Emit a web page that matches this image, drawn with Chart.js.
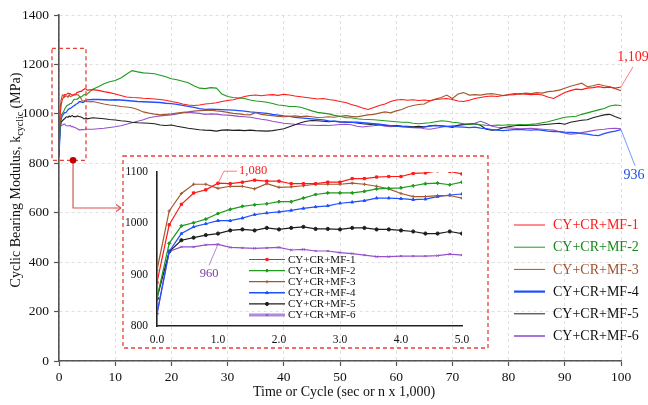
<!DOCTYPE html>
<html><head><meta charset="utf-8">
<script src="https://cdn.jsdelivr.net/npm/chart.js@4.4.1/dist/chart.umd.min.js"></script>
<style>
html,body{margin:0;padding:0;background:#fff;}
#wrap{position:relative;width:648px;height:405px;overflow:hidden;}
#main{position:absolute;left:0;top:0;}
#inset{position:absolute;left:123px;top:156px;}
</style></head><body>
<div id="wrap"><canvas id="main" width="648" height="405"></canvas><canvas id="inset" width="364" height="191"></canvas></div>
<script>
// ---------- DATA ----------
const seriesNames = ['CY+CR+MF-1','CY+CR+MF-2','CY+CR+MF-3','CY+CR+MF-4','CY+CR+MF-5','CY+CR+MF-6'];

// first 5 (x 1,000) cycles, every 0.2
const earlyX = [0,0.2,0.4,0.6,0.8,1.0,1.2,1.4,1.6,1.8,2.0,2.2,2.4,2.6,2.8,3.0,3.2,3.4,3.6,3.8,4.0,4.2,4.4,4.6,4.8,5.0];
const earlyMF1 = [885,997,1037,1059,1065,1078,1077,1080,1084,1082,1082,1077,1077,1077,1080,1080,1087,1087,1090,1091,1091,1097,1098,1102,1101,1096];
const earlyMF2 = [855,961,995,1001,1008,1019,1027,1033,1036,1038,1042,1042,1049,1056,1059,1059,1059,1062,1067,1068,1069,1073,1077,1078,1075,1080];
const earlyMF3 = [909,1024,1058,1076,1076,1068,1072,1072,1067,1077,1070,1071,1073,1076,1076,1076,1078,1076,1072,1067,1058,1052,1052,1054,1054,1049];
const earlyMF4 = [825,945,980,993,999,1005,1005,1010,1017,1020,1022,1025,1029,1032,1034,1039,1041,1044,1049,1049,1048,1046,1047,1052,1055,1057];
const earlyMF5 = [854,945,967,972,977,980,986,988,986,991,988,991,993,989,989,988,991,991,988,988,986,984,980,980,984,980];
const earlyMF6 = [822,945,954,954,958,959,953,952,951,952,953,948,949,946,946,943,941,938,935,935,936,936,936,937,940,938];

// 6 .. 100 (x 1,000) cycles
const laterX = [6,7,8,9,10,11,12,13,14,15,16,17,18,19,20,21,22,23,24,25,26,27,28,29,30,31,32,33,34,35,36,37,38,39,40,41,42,43,44,45,46,47,48,49,50,51,52,53,54,55,56,57,58,59,60,61,62,63,64,65,66,67,68,69,70,71,72,73,74,75,76,77,78,79,80,81,82,83,84,85,86,87,88,89,90,91,92,93,94,95,96,97,98,99,100];
const laterMF1 = [1098,1095,1090,1086,1080,1074,1068,1066,1065,1063,
 1062,1060,1058,1055,1050,1046,1040,1036,1034,1036,
 1040,1042,1045,1050,1054,1057,1063,1070,1074,1076,
 1073,1076,1078,1075,1079,1076,1072,1069,1066,1063,
 1060,1062,1058,1055,1050,1046,1038,1032,1024,1018,
 1026,1034,1040,1050,1056,1058,1055,1057,1054,1056,
 1053,1058,1060,1062,1058,1052,1050,1055,1062,1066,
 1070,1072,1070,1074,1076,1078,1082,1080,1078,1080,
 1076,1068,1062,1074,1086,1094,1100,1098,1104,1106,
 1110,1106,1108,1104,1109];
const laterMF2 = [1100,1110,1122,1130,1135,1145,1160,1175,1170,1166,
 1164,1162,1156,1150,1142,1138,1132,1126,1114,1104,
 1102,1106,1104,1080,1070,1066,1064,1062,1056,1052,
 1050,1047,1042,1036,1034,1030,1030,1027,1020,1012,
 1006,1003,1000,994,990,984,984,980,978,977,
 976,974,972,970,968,966,966,962,960,962,
 964,968,972,970,966,964,960,958,960,956,
 954,953,955,954,956,955,957,956,958,960,
 964,968,974,980,986,988,990,998,1004,1010,
 1016,1022,1032,1036,1034];
const laterMF3 = [1050,1045,1040,1036,1034,1030,1028,1025,1018,1008,
 1003,999,996,998,1000,1003,1006,1008,1011,1013,
 1014,1015,1012,1010,1006,1002,1000,997,996,1005,
 998,995,993,990,988,990,992,989,991,988,
 985,986,988,986,990,993,990,988,992,996,
 998,1003,1008,1004,1012,1018,1028,1034,1038,1040,
 1052,1060,1066,1076,1062,1080,1086,1076,1078,1076,
 1080,1082,1078,1074,1078,1082,1080,1084,1082,1086,
 1084,1090,1092,1096,1104,1112,1118,1124,1110,1114,
 1120,1114,1110,1102,1094];
const laterMF4 = [1058,1058,1057,1056,1057,1056,1054,1052,1050,1049,
 1048,1047,1046,1043,1041,1038,1034,1030,1026,1021,
 1018,1019,1018,1017,1016,1015,1013,1011,1008,1006,
 1004,1002,998,995,992,990,986,984,982,980,
 978,976,972,970,968,967,966,966,964,962,
 960,958,955,952,950,948,947,945,944,946,
 950,952,950,948,948,947,946,944,946,942,
 940,936,934,932,934,936,937,935,934,936,
 933,930,928,928,926,925,924,920,918,914,
 912,920,926,930,936];
const laterMF5 = [984,982,980,977,975,972,970,966,964,963,
 962,960,955,953,955,950,946,942,939,936,
 934,933,930,934,935,933,934,932,934,932,
 931,930,932,936,940,948,956,964,970,973,
 972,970,968,970,967,966,966,963,960,958,
 956,957,954,952,953,951,950,948,950,948,
 952,954,952,950,945,954,956,958,960,954,
 938,934,936,944,948,952,954,953,955,954,
 956,958,960,962,958,966,970,974,976,984,
 990,996,998,988,980];
const laterMF6 = [938,940,942,945,948,952,958,964,970,976,
 984,988,992,994,996,1000,1004,1006,1004,1002,
 998,1000,999,996,995,993,990,988,986,982,
 978,975,970,966,962,960,958,957,955,954,
 953,954,953,955,957,958,956,950,947,950,
 952,955,950,948,950,948,946,944,945,940,
 938,942,946,950,952,954,958,960,962,970,
 962,950,946,944,943,942,940,941,942,940,
 938,936,934,928,922,918,920,924,928,932,
 936,938,941,942,940];

// tick labels
const mainXTicks = [0,10,20,30,40,50,60,70,80,90,100];
const mainYTicks = [0,200,400,600,800,1000,1200,1400];
const insetXTicks = ['0.0','1.0','2.0','3.0','4.0','5.0'];
const insetYTicks = [800,900,1000,1100];
// annotated values
const endLabelHigh = '1,109';
const endLabelLow = '936';
const insetLabelHigh = '1,080';
const insetLabelLow = '960';

// ---------- STYLE ----------
const FONT = '"Liberation Serif","Times New Roman",serif';
const colors = ['#ff1a1a','#1e9a1e','#a5582e','#1f4fff','#1e1e1e','#9650c8'];
const legendTextColors = ['#ff1a1a','#16891a','#a0522d','#111111','#111111','#111111'];
const mainWidths = [1.1,1.1,1.1,1.3,1.1,1.1];
const legendWidths = [1,1,1,2.2,1,1.6];
const insetPointStyles = ['rect','rectRot','cross','triangle','circle','crossRot'];

const earlyAll = [earlyMF1,earlyMF2,earlyMF3,earlyMF4,earlyMF5,earlyMF6];
const laterAll = [laterMF1,laterMF2,laterMF3,laterMF4,laterMF5,laterMF6];

const mainDatasets = seriesNames.map((name,i)=>({
  label:name,
  data: earlyX.map((x,k)=>({x:x,y:earlyAll[i][k]})).concat(laterX.map((x,k)=>({x:x,y:laterAll[i][k]}))),
  borderColor:colors[i], backgroundColor:colors[i], borderWidth:mainWidths[i],
  pointRadius:0, tension:0
}));

function arrowHead(ctx,x,y,dir,size){
  ctx.beginPath();
  ctx.moveTo(x,y);
  ctx.lineTo(x-size*dir, y-size*0.7);
  ctx.moveTo(x,y);
  ctx.lineTo(x-size*dir, y+size*0.7);
  ctx.stroke();
}

const mainPlugin = {
  id:'mainDeco',
  afterDraw(chart){
    const ctx = chart.ctx, xs = chart.scales.x, ys = chart.scales.y;
    ctx.save();
    // dashed zoom box around first cycles
    ctx.strokeStyle = '#e8413a'; ctx.lineWidth = 1.3; ctx.setLineDash([4,3]);
    const bx1 = xs.getPixelForValue(-1.25), bx2 = xs.getPixelForValue(4.8);
    const by1 = ys.getPixelForValue(1265), by2 = ys.getPixelForValue(812);
    ctx.strokeRect(bx1,by1,bx2-bx1,by2-by1);
    // inset frame
    ctx.strokeRect(123,156,365,192);
    ctx.setLineDash([]);
    // connector
    const dx = xs.getPixelForValue(2.5), dy = by2;
    ctx.strokeStyle = '#d9534f'; ctx.lineWidth = 1.2;
    ctx.beginPath(); ctx.moveTo(dx,dy); ctx.lineTo(dx,208); ctx.lineTo(121,208); ctx.stroke();
    arrowHead(ctx,121,208,1,5);
    ctx.fillStyle = '#c00000';
    ctx.beginPath(); ctx.arc(dx,dy,3.3,0,Math.PI*2); ctx.fill();
    // end labels
    const pHigh = {x:xs.getPixelForValue(100), y:ys.getPixelForValue(laterMF1[laterMF1.length-1])};
    const pLow = {x:xs.getPixelForValue(100), y:ys.getPixelForValue(laterMF4[laterMF4.length-1])};
    ctx.lineWidth = 0.8;
    ctx.strokeStyle = '#ff5a5a';
    ctx.beginPath(); ctx.moveTo(pHigh.x,pHigh.y); ctx.lineTo(pHigh.x+12,pHigh.y-20); ctx.stroke();
    ctx.strokeStyle = '#5a7aff';
    ctx.beginPath(); ctx.moveTo(pLow.x,pLow.y); ctx.lineTo(pLow.x+14,pLow.y+36); ctx.stroke();
    ctx.font = '14px '+FONT; ctx.textAlign='center'; ctx.textBaseline='middle';
    ctx.fillStyle = '#ff1a1a'; ctx.fillText(endLabelHigh, pHigh.x+12, pHigh.y-30);
    ctx.fillStyle = '#1f4fe0'; ctx.fillText(endLabelLow, pLow.x+13, pLow.y+46);
    // legend
    const lx1 = 514, lx2 = 545, tx = 553, ly0 = 225, lstep = 22.2;
    ctx.font = '14px '+FONT; ctx.textAlign='left'; ctx.textBaseline='middle';
    seriesNames.forEach((n,i)=>{
      const y = ly0 + i*lstep;
      ctx.strokeStyle = colors[i]; ctx.lineWidth = legendWidths[i];
      ctx.beginPath(); ctx.moveTo(lx1,y); ctx.lineTo(lx2,y); ctx.stroke();
      ctx.fillStyle = legendTextColors[i];
      ctx.fillText(n, tx, y+0.5);
    });
    // axis titles
    ctx.fillStyle = '#111';
    ctx.font = '14px '+FONT; ctx.textAlign='left'; ctx.textBaseline='middle';
    ctx.fillText('Time or Cycle (sec or n x 1,000)', 253, 392);
    ctx.translate(15,180); ctx.rotate(-Math.PI/2);
    const p1 = 'Cyclic Bearing Modulus, k', p2 = 'cyclic', p3 = ' (MPa)';
    ctx.font = '14px '+FONT; const w1 = ctx.measureText(p1).width, w3 = ctx.measureText(p3).width;
    ctx.font = '10px '+FONT; const w2 = ctx.measureText(p2).width;
    let sx = -(w1+w2+w3)/2;
    ctx.textBaseline = 'alphabetic';
    ctx.font = '14px '+FONT; ctx.fillText(p1, sx, 5); sx += w1;
    ctx.font = '10px '+FONT; ctx.fillText(p2, sx, 8); sx += w2;
    ctx.font = '14px '+FONT; ctx.fillText(p3, sx, 5);
    ctx.restore();
  }
};

new Chart(document.getElementById('main'), {
  type:'line',
  data:{datasets:mainDatasets},
  options:{
    responsive:false, animation:false, devicePixelRatio:1,
    layout:{padding:{top:15,right:27,left:0,bottom:0}},
    plugins:{legend:{display:false}, tooltip:{enabled:false}},
    scales:{
      x:{type:'linear', min:mainXTicks[0], max:mainXTicks[mainXTicks.length-1],
        afterBuildTicks:s=>{s.ticks = mainXTicks.map(v=>({value:v}));},
        ticks:{font:{family:FONT,size:13.5}, color:'#111', padding:3, maxRotation:0, autoSkip:false,
          callback:(v)=>String(v)},
        grid:{color:'#dcdcdc', lineWidth:0.9, tickLength:5, tickColor:'#555', tickWidth:1.2, tickBorderDash:[]},
        border:{color:'#555', width:1.6, dash:[3,3]},
        afterFit:s=>{s.height=44;}
      },
      y:{min:mainYTicks[0], max:mainYTicks[mainYTicks.length-1],
        afterBuildTicks:s=>{s.ticks = mainYTicks.map(v=>({value:v}));},
        ticks:{font:{family:FONT,size:13.5}, color:'#111', padding:5, autoSkip:false,
          callback:(v)=>String(v)},
        grid:{color:'#dcdcdc', lineWidth:0.9, tickLength:5, tickColor:'#555', tickWidth:1.2, tickBorderDash:[]},
        border:{color:'#555', width:1.6, dash:[3,3]},
        afterFit:s=>{s.width=59;}
      }
    }
  },
  plugins:[mainPlugin]
});

// ---------- INSET ----------
const insetDatasets = seriesNames.map((name,i)=>({
  label:name,
  data: earlyX.map((x,k)=>({x:x,y:earlyAll[i][k]})),
  borderColor:colors[i], backgroundColor:colors[i], borderWidth:1.2,
  pointRadius:1.6, pointStyle:insetPointStyles[i], pointBorderWidth:1, tension:0
}));

function drawMarker(ctx, style, x, y, r, color){
  ctx.save();
  ctx.fillStyle = color; ctx.strokeStyle = color; ctx.lineWidth = 1;
  if (window.Chart && Chart.helpers && Chart.helpers.drawPoint){
    Chart.helpers.drawPoint(ctx, {pointStyle:style, radius:r, rotation:0, borderWidth:1}, x, y);
  } else {
    ctx.fillRect(x-r,y-r,2*r,2*r);
  }
  ctx.restore();
}

const insetPlugin = {
  id:'insetDeco',
  afterDraw(chart){
    const ctx = chart.ctx, xs = chart.scales.x, ys = chart.scales.y;
    ctx.save();
    // legend
    const lx1 = 126, lx2 = 162, tx = 165, ly0 = 103.5, lstep = 11.1;
    ctx.font = '11px '+FONT; ctx.textAlign='left'; ctx.textBaseline='middle';
    const insetLegendWidths = [1.2,1.2,1.2,1.6,1.2,2.8];
    const insetLegendColors = ['#ff1a1a','#1e9a1e','#a5582e','#1f4fff','#1e1e1e','#b08ad8'];
    seriesNames.forEach((n,i)=>{
      const y = ly0 + i*lstep;
      ctx.strokeStyle = insetLegendColors[i]; ctx.lineWidth = insetLegendWidths[i];
      ctx.beginPath(); ctx.moveTo(lx1,y); ctx.lineTo(lx2,y); ctx.stroke();
      drawMarker(ctx, insetPointStyles[i], (lx1+lx2)/2, y, 1.6, colors[i]);
      ctx.fillStyle = '#111';
      ctx.fillText(n, tx, y+0.5);
    });
    // annotations
    const ph = {x:xs.getPixelForValue(1.0), y:ys.getPixelForValue(earlyMF1[5])};
    const pl = {x:xs.getPixelForValue(1.0), y:ys.getPixelForValue(earlyMF6[5])};
    ctx.lineWidth = 0.8;
    ctx.strokeStyle = '#ff5a5a';
    ctx.beginPath(); ctx.moveTo(ph.x,ph.y); ctx.lineTo(ph.x+6,ph.y-12); ctx.lineTo(ph.x+19,ph.y-12); ctx.stroke();
    ctx.strokeStyle = '#9a6ad0';
    ctx.beginPath(); ctx.moveTo(pl.x,pl.y); ctx.lineTo(pl.x-9,pl.y+21); ctx.stroke();
    ctx.font = '12.5px '+FONT; ctx.textBaseline='middle';
    ctx.fillStyle = '#ff1a1a'; ctx.textAlign='left'; ctx.fillText(insetLabelHigh, ph.x+21, ph.y-12);
    ctx.fillStyle = '#7a3aaa'; ctx.textAlign='center'; ctx.fillText(insetLabelLow, pl.x-9, pl.y+29);
    ctx.restore();
  }
};

new Chart(document.getElementById('inset'), {
  type:'line',
  data:{datasets:insetDatasets},
  options:{
    responsive:false, animation:false, devicePixelRatio:1,
    layout:{padding:{top:11,right:25,left:0,bottom:0}},
    plugins:{legend:{display:false}, tooltip:{enabled:false}},
    scales:{
      x:{type:'linear', min:0, max:5,
        afterBuildTicks:s=>{s.ticks = insetXTicks.map(v=>({value:parseFloat(v)}));},
        ticks:{font:{family:FONT,size:11.5}, color:'#111', padding:7, maxRotation:0, autoSkip:false,
          callback:(v,idx)=>insetXTicks[idx]},
        grid:{display:false, drawTicks:false, tickLength:0},
        border:{color:'#222', width:1.6},
        afterFit:s=>{s.height=21;}
      },
      y:{min:insetYTicks[0], max:insetYTicks[insetYTicks.length-1],
        afterBuildTicks:s=>{s.ticks = insetYTicks.map(v=>({value:v}));},
        ticks:{font:{family:FONT,size:11.5}, color:'#111', padding:9, autoSkip:false,
          callback:(v)=>String(v)},
        grid:{display:false, drawTicks:false, tickLength:0},
        border:{color:'#222', width:1.6},
        afterFit:s=>{s.width=34;}
      }
    }
  },
  plugins:[insetPlugin]
});
</script>
</body></html>
